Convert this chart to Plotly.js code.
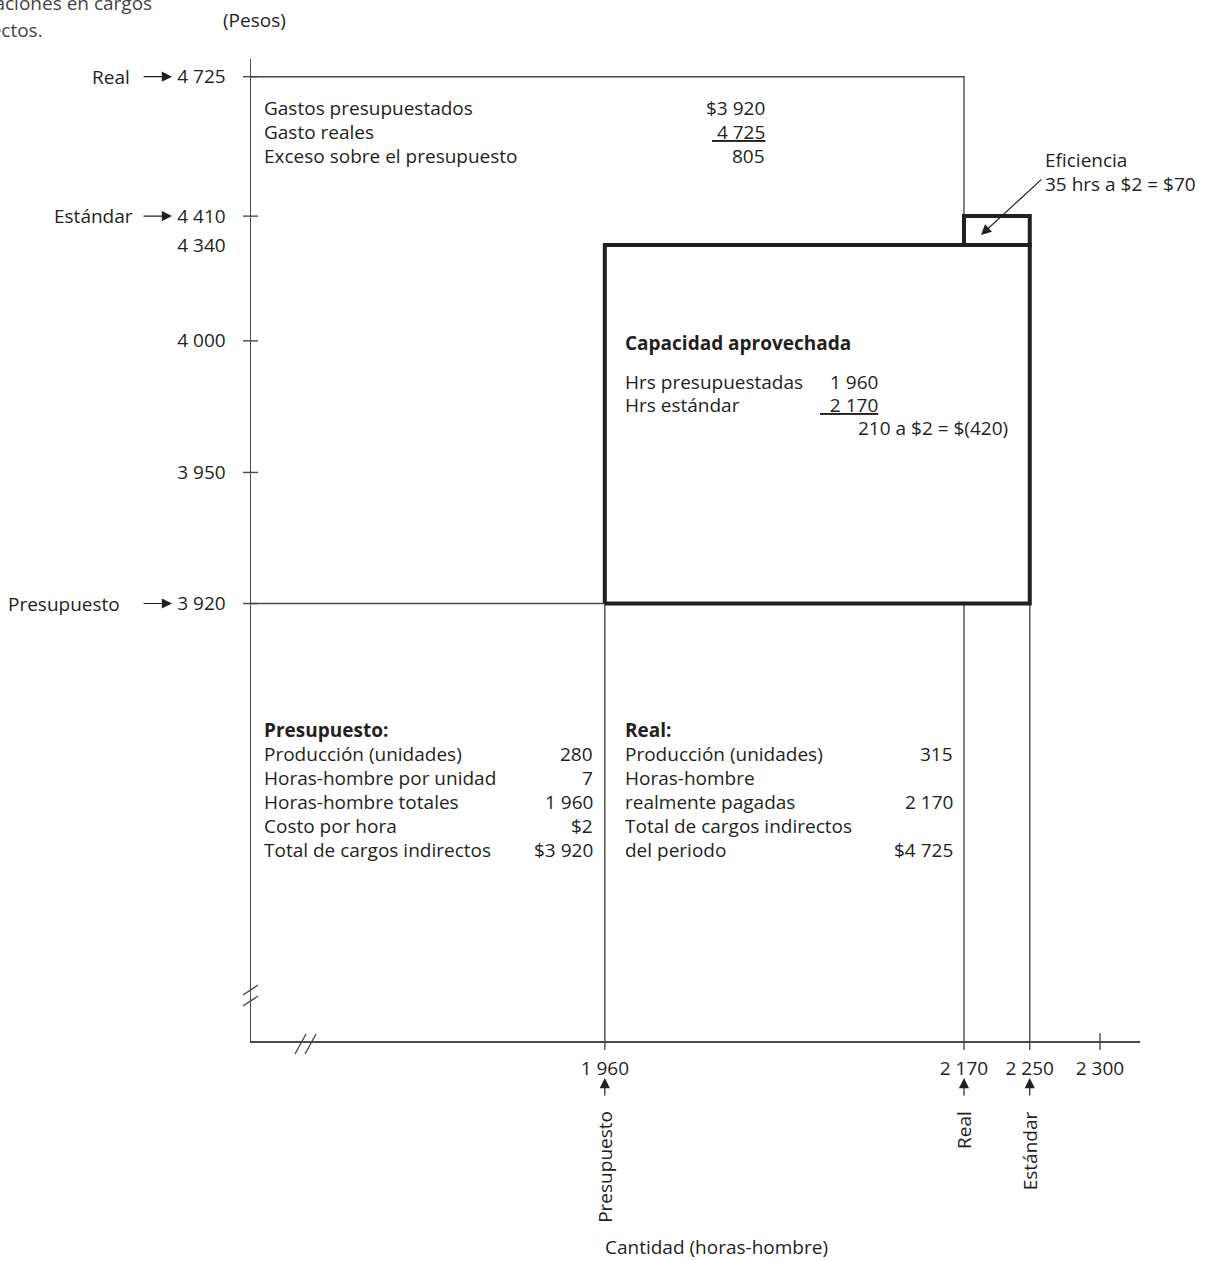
<!DOCTYPE html>
<html><head><meta charset="utf-8">
<script src="https://cdn.plot.ly/plotly-3.0.1.min.js"></script>
<style>html,body{margin:0;padding:0;background:#fff;}</style>
</head><body><div id="chart" style="width:1210px;height:1261px;"></div>
<script>
// ---------------- data ----------------
const xTickValues = [1960, 2170, 2250, 2300];
const xTickText   = ['1 960', '2 170', '2 250', '2 300'];
const yTickValues = [3920, 3950, 4000, 4340, 4410, 4725];
const yTickText   = ['3 920', '3 950', '4 000', '4 340', '4 410', '4 725'];

const hoursBudget = 1960, hoursActual = 2170, hoursStandard = 2250;
const costBudget = 3920, costCapacity = 4340, costStandard = 4410, costActual = 4725;

const yPointerLabels = ['Real', 'Estándar', 'Presupuesto'];
const yPointerValues = [4725, 4410, 3920];
const xPointerLabels = ['Presupuesto', 'Real', 'Estándar'];
const xPointerValues = [1960, 2170, 2250];

const gastosLabels = ['Gastos presupuestados', 'Gasto reales', 'Exceso sobre el presupuesto'];
const gastosValues = ['$3 920', '4 725', '805'];
const capTitle  = 'Capacidad aprovechada';
const capLabels = ['Hrs presupuestadas', 'Hrs estándar'];
const capValues = ['1 960', '2 170'];
const capResult = '210 a $2 = $(420)';
const presTitle  = 'Presupuesto:';
const presLabels = ['Producción (unidades)', 'Horas-hombre por unidad', 'Horas-hombre totales', 'Costo por hora', 'Total de cargos indirectos'];
const presValues = ['280', '7', '1 960', '$2', '$3 920'];
const realTitle  = 'Real:';
const realLabels = ['Producción (unidades)', 'Horas-hombre', 'realmente pagadas', 'Total de cargos indirectos', 'del periodo'];
const realValues = ['315', '', '2 170', '', '$4 725'];
const eficLines = ['Eficiencia', '35 hrs a $2 = $70'];

// ---------------- layout (schematic, not-to-scale broken axes) ----------------
// position of each tick along its axis, in % of the axis length
const xTickPos = [39.8, 80.2, 87.6, 95.5];
const yTickPos = [44.55, 57.9, 71.3, 81.05, 84.0, 98.2];
const yTickMarked = [true, true, true, false, true, true];

function xs(v) { return v === 0 ? 0 : xTickPos[xTickValues.indexOf(v)]; }
function ys(v) { return v === 0 ? 0 : yTickPos[yTickValues.indexOf(v)]; }

const FONT = '"Open Sans", "Noto Sans", sans-serif';
const INK = '#231f20';
const LINE = '#4a4a4a';
const FS = 19;
const L = 251, T = 59, W = 889, H = 982;
const px = x => (x - L) / W;
const py = y => (T + H - y) / H;

// ---------------- traces ----------------
const thin = {color: LINE, width: 1.4};
const thick = {color: INK, width: 4};
const traces = [
  {x: [0, xs(hoursActual), xs(hoursActual)], y: [ys(costActual), ys(costActual), ys(costStandard)], line: thin},
  {x: [0, xs(hoursBudget)], y: [ys(costBudget), ys(costBudget)], line: thin},
  {x: [xs(hoursBudget), xs(hoursBudget), null, xs(hoursActual), xs(hoursActual), null, xs(hoursStandard), xs(hoursStandard)],
   y: [ys(costBudget), 0, null, ys(costBudget), 0, null, ys(costBudget), 0], line: thin},
  {x: [xs(hoursBudget), xs(hoursStandard), xs(hoursStandard), xs(hoursBudget), xs(hoursBudget)],
   y: [ys(costBudget), ys(costBudget), ys(costCapacity), ys(costCapacity), ys(costBudget)], line: thick},
  {x: [xs(hoursActual), xs(hoursStandard), xs(hoursStandard), xs(hoursActual), xs(hoursActual)],
   y: [ys(costCapacity), ys(costCapacity), ys(costStandard), ys(costStandard), ys(costCapacity)], line: thick}
].map(t => Object.assign({type: 'scatter', mode: 'lines', hoverinfo: 'skip', connectgaps: false}, t));

// ---------------- shapes: tick marks and axis breaks ----------------
const shapes = [];
yTickValues.forEach((v, i) => {
  if (!yTickMarked[i]) return;
  shapes.push({type: 'line', xref: 'paper', yref: 'paper', xsizemode: 'pixel', xanchor: 0,
    x0: -8, x1: 7, y0: ys(v) / 100, y1: ys(v) / 100, line: {color: LINE, width: 1.4}});
});
xTickValues.forEach((v, i) => {
  shapes.push({type: 'line', xref: 'paper', yref: 'paper', ysizemode: 'pixel', yanchor: 0,
    y0: -9, y1: i === xTickValues.length - 1 ? 8 : 0, x0: xs(v) / 100, x1: xs(v) / 100, line: {color: LINE, width: 1.4}});
});
[[243, 995, 258, 985], [243, 1006, 258, 996], [295, 1054, 306, 1034], [305, 1054, 316, 1034]].forEach(s => {
  shapes.push({type: 'line', xref: 'paper', yref: 'paper', x0: px(s[0]), y0: py(s[1]), x1: px(s[2]), y1: py(s[3]),
    line: {color: LINE, width: 1.4}});
});

// ---------------- annotations ----------------
const ann = [];
const ARROW = {showarrow: true, arrowhead: 2, arrowsize: 1.7, arrowwidth: 1.2, arrowcolor: INK, standoff: 0, startstandoff: 0};
function txt(text, x, y, anchor, extra) {
  ann.push(Object.assign({text: text, xref: 'paper', yref: 'paper', x: px(x), y: py(y), xanchor: anchor || 'left',
    yanchor: 'middle', showarrow: false, font: {family: FONT, size: FS, color: INK}}, extra || {}));
}
function arrow(headX, headY, ax, ay) {
  ann.push(Object.assign({text: '', xref: 'paper', yref: 'paper', x: px(headX), y: py(headY), ax: ax, ay: ay}, ARROW));
}

// caption cut at the page edge and axis titles
txt('Variaciones en cargos', 154, 3, 'right', {font: {family: FONT, size: FS, color: '#444'}});
txt('indirectos.', 45, 30, 'right', {font: {family: FONT, size: FS, color: '#444'}});
txt('(Pesos)', 254, 20, 'center');
txt('Cantidad (horas-hombre)', 716, 1247, 'center');

// y pointers
const yPointerRight = [132, 135, 122];
yPointerValues.forEach((v, i) => {
  ann.push(Object.assign({text: '', xref: 'paper', yref: 'y', x: px(172), y: ys(v), ax: -30, ay: 0}, ARROW));
  ann.push({text: yPointerLabels[i], xref: 'paper', yref: 'y', x: px(yPointerRight[i]), y: ys(v),
    xanchor: 'right', yanchor: 'middle', showarrow: false, font: {family: FONT, size: FS, color: INK}});
});
// x pointers
xPointerValues.forEach((v, i) => {
  ann.push(Object.assign({text: '', xref: 'x', yref: 'paper', x: xs(v), y: 0, yshift: -37, ax: 0, ay: 19}, ARROW));
  ann.push({text: xPointerLabels[i], xref: 'x', yref: 'paper', x: xs(v), y: 0, yshift: -68, textangle: -90,
    xanchor: 'center', yanchor: 'top', showarrow: false, font: {family: FONT, size: FS, color: INK}});
});

// top block
gastosLabels.forEach((t, i) => {
  txt(t, 262, 108 + i * 24, 'left');
  txt(i === 1 ? '<u>\u00a0' + gastosValues[i] + '</u>' : gastosValues[i], 767, 108 + i * 24, 'right');
});
// capacity box
txt('<b>' + capTitle + '</b>', 623, 343, 'left');
capLabels.forEach((t, i) => {
  txt(t, 623, 382 + i * 23, 'left');
  txt(i === 1 ? '<u>\u00a0\u00a0' + capValues[i] + '</u>' : capValues[i], 880, 382 + i * 23, 'right');
});
txt(capResult, 1010, 428, 'right');
// budget block
txt('<b>' + presTitle + '</b>', 262, 730, 'left');
presLabels.forEach((t, i) => {
  txt(t, 262, 754 + i * 24, 'left');
  txt(presValues[i], 595, 754 + i * 24, 'right');
});
// actual block
txt('<b>' + realTitle + '</b>', 623, 730, 'left');
realLabels.forEach((t, i) => {
  txt(t, 623, 754 + i * 24, 'left');
  if (realValues[i]) txt(realValues[i], 955, 754 + i * 24, 'right');
});
// efficiency
txt(eficLines[0], 1043, 160, 'left');
txt(eficLines[1], 1043, 184, 'left');
arrow(981, 235, 62, -57);

const axisCommon = {range: [0, 100], showgrid: false, zeroline: false, showline: true, linecolor: LINE, linewidth: 1.5,
  ticks: '', tickfont: {family: FONT, size: FS, color: INK}, fixedrange: true};

const layout = {
  width: 1210, height: 1261,
  margin: {l: L, r: 1210 - L - W, t: T, b: 1261 - T - H, pad: 0},
  paper_bgcolor: '#fff', plot_bgcolor: '#fff',
  showlegend: false, hovermode: false,
  xaxis: Object.assign({}, axisCommon, {tickvals: xTickPos, ticktext: xTickText, ticklabelstandoff: 10}),
  yaxis: Object.assign({}, axisCommon, {tickvals: yTickPos, ticktext: yTickText, ticklabelstandoff: 20}),
  shapes: shapes,
  annotations: ann
};

Plotly.newPlot('chart', traces, layout, {staticPlot: true, displayModeBar: false});
</script>
</body></html>
